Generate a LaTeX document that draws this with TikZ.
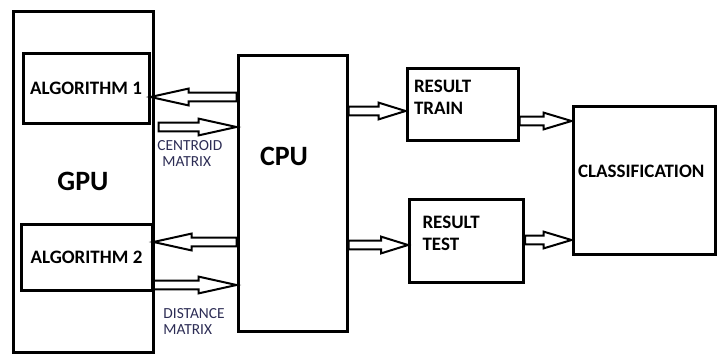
\documentclass[tikz,border=0pt]{standalone}
\usepackage{fontspec}
\setmainfont{Carlito}
\usetikzlibrary{calc}
\definecolor{notecol}{RGB}{45,45,85}
\tikzset{
  unit/.style={draw, line width=1.5pt, inner sep=0pt, font=\fontsize{9.5}{11}\selectfont\bfseries},
  leftbox/.style={unit, align=left},
  bigtext/.style={font=\fontsize{14}{16}\selectfont\bfseries},
  tag/.style={inner sep=0pt, align=left, text=notecol, font=\fontsize{7.7}{8}\selectfont},
  hollow/.style={line width=1pt, line join=miter, to path={
      let \p1=(\tikztostart), \p2=(\tikztotarget), \n1={sign(\x2-\x1)} in
      (\x1,\y1+2.2pt) -- (\x2-\n1*#1,\y1+2.2pt) -- (\x2-\n1*#1,\y1+4.2pt) -- (\x2,\y1)
      -- (\x2-\n1*#1,\y1-4.2pt) -- (\x2-\n1*#1,\y1-2.2pt) -- (\x1,\y1-2.2pt) -- cycle}},
  hollow/.default=19pt,
}
\begin{document}
\begin{tikzpicture}[x=0.5pt,y=-0.5pt]
  \useasboundingbox (0,0) rectangle (717,354);

  % processing units
  \node[unit, bigtext, minimum width=70pt, minimum height=170.5pt] (gpu) at (83,181.5) {GPU};
  \node[unit, minimum width=63pt, minimum height=35pt] (alg1) at (86,88) {ALGORITHM 1};
  \node[unit, minimum width=65.5pt, minimum height=33pt] (alg2) at (86.5,257) {ALGORITHM 2};
  \node[unit, minimum width=54.5pt, minimum height=138pt] (cpu) at (292.5,193) {};
  \node[bigtext, inner sep=0pt] (cputext) at (284,156) {CPU};

  % results
  \node[leftbox, inner xsep=3.5pt, text width=48.5pt, minimum height=36pt, text depth=18pt] (train) at (462.5,104) {RESULT\\TRAIN};
  \node[leftbox, inner xsep=6.5pt, text width=44pt, minimum height=41.5pt, text depth=18pt] (test) at (466.5,240.5) {RESULT\\TEST};
  \node[leftbox, inner xsep=2.5pt, text width=66pt, minimum height=74pt, text height=6.5pt, text depth=9pt] (cls) at (644,180) {CLASSIFICATION};

  \node[tag, anchor=north west] (centroid) at (157,140) {CENTROID\\\hspace{2.5pt}MATRIX};
  \node[tag, anchor=north west] (distance) at (163,308) {DISTANCE\\MATRIX};

  % transfers
  \draw[hollow] (cpu.west |- 0,97) to (alg1.east |- 0,97);
  \draw[hollow] ($(gpu.east |- 0,127)+(4,0)$) to (cpu.west |- 0,127);
  \draw[hollow] (cpu.west |- 0,242) to (alg2.east |- 0,242);
  \draw[hollow] (alg2.east |- 0,285) to (cpu.west |- 0,285);
  \draw[hollow=13.5pt] (cpu.east |- 0,111) to (train.west |- 0,111);
  \draw[hollow=13.5pt] (cpu.east |- 0,245) to (test.west |- 0,245);
  \draw[hollow=14pt] (train.east |- 0,121) to (cls.west |- 0,121);
  \draw[hollow=14pt] (test.east |- 0,240) to (cls.west |- 0,240);
\end{tikzpicture}
\end{document}
